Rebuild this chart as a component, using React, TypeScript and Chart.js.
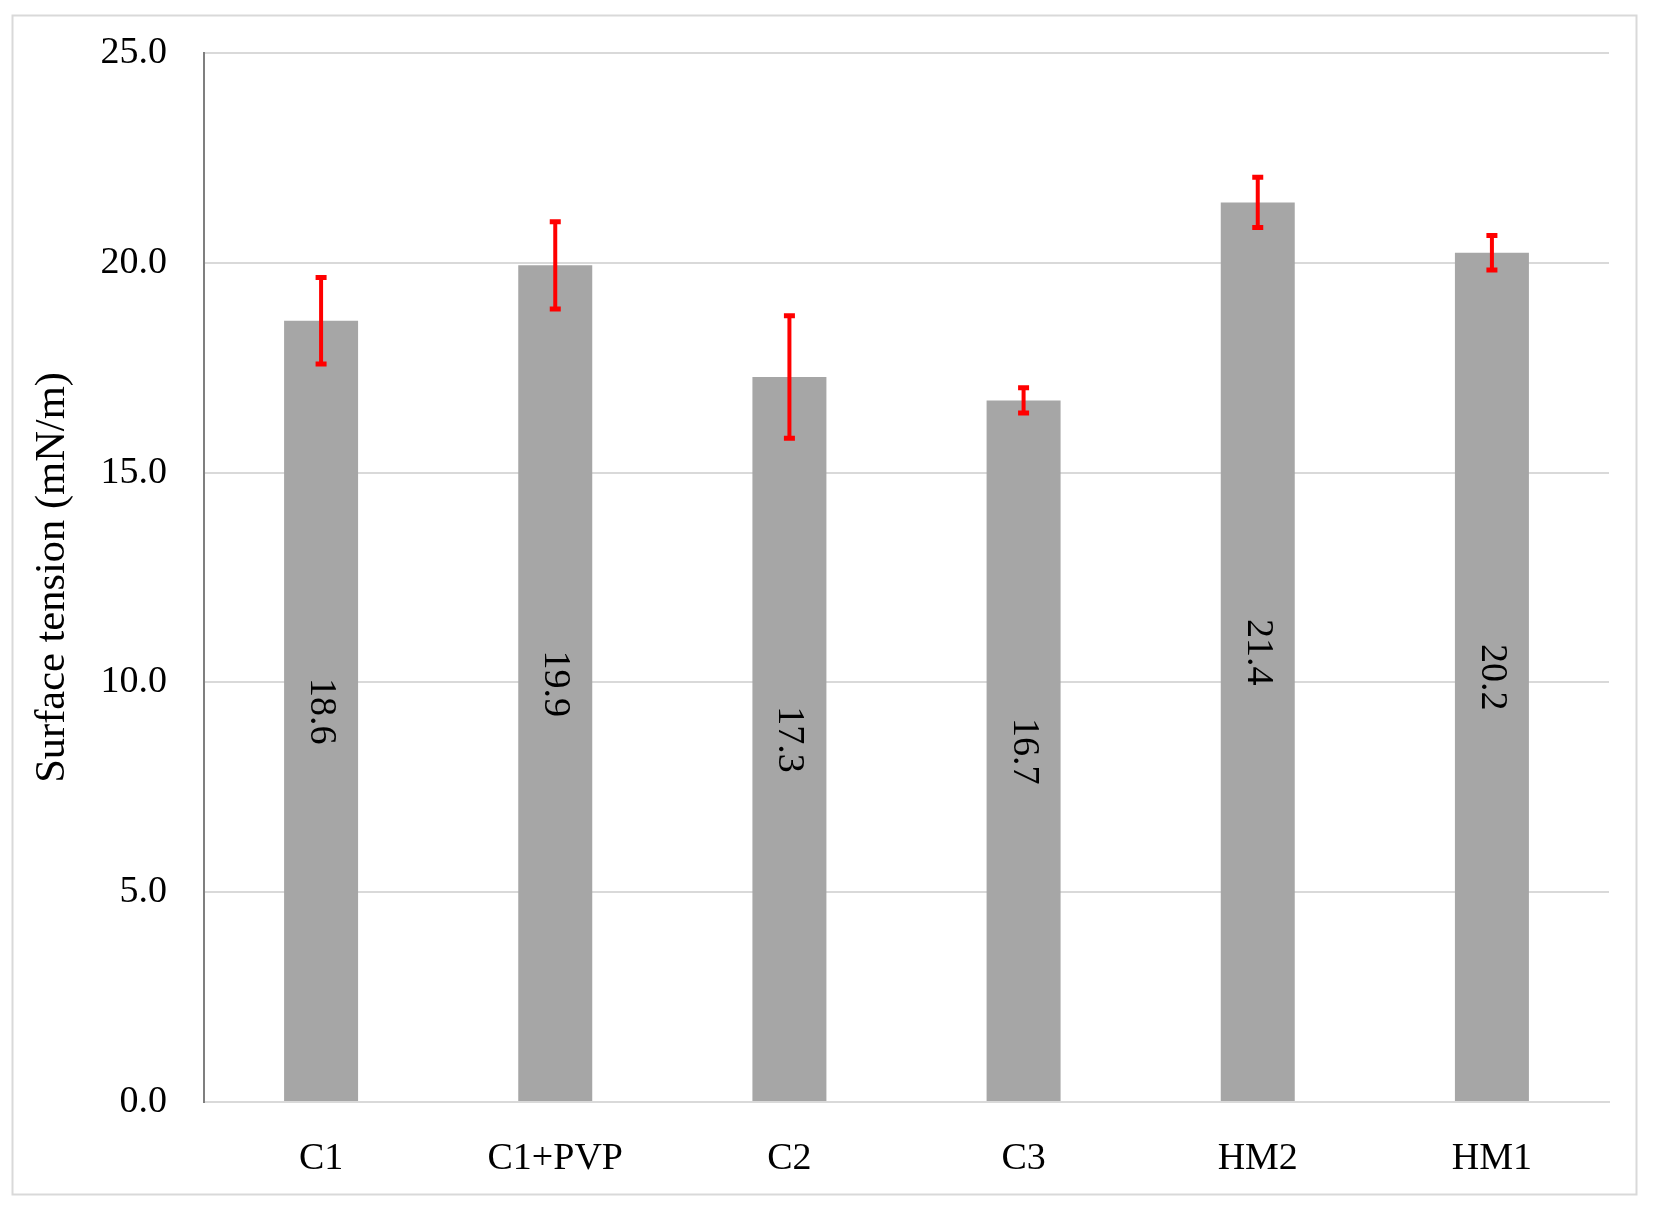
import React, { useEffect, useRef } from 'react';
import { Chart, registerables } from 'chart.js';

Chart.register(...registerables);

const categories = ['C1', 'C1+PVP', 'C2', 'C3', 'HM2', 'HM1'];
const values = [18.62, 19.94, 17.28, 16.72, 21.44, 20.24];
const errors = [1.03, 1.04, 1.46, 0.3, 0.6, 0.41];
const valueLabels = ['18.6', '19.9', '17.3', '16.7', '21.4', '20.2'];
const yTickValues = [0, 5, 10, 15, 20, 25];

const FONT = "'Liberation Serif', 'Times New Roman', serif";
const W = 1654;
const H = 1216;

const framePlugin = {
  id: 'frame',
  beforeDraw(chart: any) {
    const ctx = chart.ctx;
    ctx.save();
    ctx.fillStyle = '#ffffff';
    ctx.fillRect(0, 0, chart.width, chart.height);
    ctx.strokeStyle = '#D9D9D9';
    ctx.lineWidth = 2;
    ctx.strokeRect(12.5, 15.5, 1624, 1179);
    ctx.restore();
  },
};

const errorAndLabelPlugin = {
  id: 'errLabels',
  afterDatasetsDraw(chart: any) {
    const ctx = chart.ctx;
    const meta = chart.getDatasetMeta(0);
    const y = chart.scales.y;
    ctx.save();
    meta.data.forEach((bar: any, i: number) => {
      const top = y.getPixelForValue(values[i]);
      const base = y.getPixelForValue(0);
      const cy = (top + base) / 2;
      ctx.save();
      ctx.translate(bar.x, cy);
      ctx.rotate(Math.PI / 2);
      ctx.fillStyle = '#000000';
      ctx.font = `38px ${FONT}`;
      ctx.textAlign = 'center';
      ctx.textBaseline = 'middle';
      ctx.fillText(valueLabels[i], 0, 0);
      ctx.restore();
    });
    ctx.strokeStyle = '#FF0000';
    meta.data.forEach((bar: any, i: number) => {
      const hi = y.getPixelForValue(values[i] + errors[i]);
      const lo = y.getPixelForValue(values[i] - errors[i]);
      ctx.lineWidth = 4;
      ctx.beginPath();
      ctx.moveTo(bar.x, hi);
      ctx.lineTo(bar.x, lo);
      ctx.stroke();
      ctx.lineWidth = 5;
      ctx.beginPath();
      ctx.moveTo(bar.x - 5.5, hi);
      ctx.lineTo(bar.x + 5.5, hi);
      ctx.moveTo(bar.x - 5.5, lo);
      ctx.lineTo(bar.x + 5.5, lo);
      ctx.stroke();
    });
    ctx.restore();
  },
};

export default function App() {
  const ref = useRef<HTMLCanvasElement | null>(null);

  useEffect(() => {
    if (!ref.current) return;
    const chart = new Chart(ref.current, {
      type: 'bar',
      data: {
        labels: categories,
        datasets: [
          {
            data: values,
            backgroundColor: '#A6A6A6',
            borderWidth: 0,
            barPercentage: 0.316,
            categoryPercentage: 1,
          },
        ],
      },
      options: {
        responsive: false,
        animation: false,
        layout: { padding: { left: 0, top: 53, right: 45, bottom: 0 } },
        plugins: {
          legend: { display: false },
          tooltip: { enabled: false },
          title: { display: false },
        },
        scales: {
          x: {
            grid: { display: false, drawTicks: false },
            border: { color: '#D9D9D9', width: 2 },
            ticks: {
              color: '#000000',
              font: { family: FONT, size: 38 },
              padding: 34,
              maxRotation: 0,
            },
            afterFit: (s: any) => {
              s.height = 114;
            },
          },
          y: {
            min: 0,
            max: 25,
            afterBuildTicks: (s: any) => {
              s.ticks = yTickValues.map((v) => ({ value: v }));
            },
            grid: {
              color: '#D9D9D9',
              lineWidth: 2,
              drawTicks: true,
              tickLength: 37,
              tickColor: 'rgba(0,0,0,0)',
            },
            border: { color: '#7F7F7F', width: 2 },
            ticks: {
              color: '#000000',
              font: { family: FONT, size: 38 },
              padding: 0,
              callback: (v: any) => Number(v).toFixed(1),
            },
            title: {
              display: true,
              text: 'Surface tension (mN/m)',
              color: '#000000',
              font: { family: FONT, size: 42.5 },
              padding: { top: 27, bottom: 0 },
            },
            afterFit: (s: any) => {
              s.width = 204;
            },
          },
        },
      },
      plugins: [framePlugin, errorAndLabelPlugin],
    } as any);
    return () => chart.destroy();
  }, []);

  return (
    <div style={{ position: 'absolute', left: 0, top: 0, width: W, height: H }}>
      <canvas ref={ref} width={W} height={H} style={{ display: 'block' }} />
    </div>
  );
}
